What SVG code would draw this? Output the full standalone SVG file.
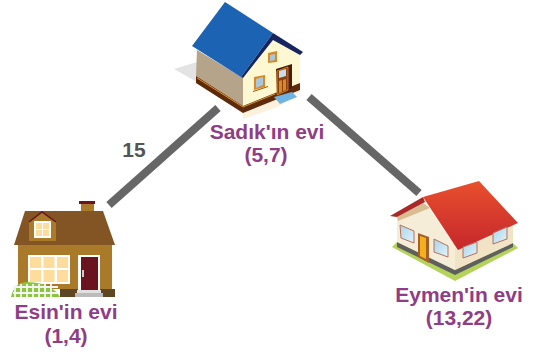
<svg xmlns="http://www.w3.org/2000/svg" width="536" height="354" viewBox="0 0 536 354">
<defs>
<linearGradient id="red" x1="0" y1="0" x2="0" y2="1"><stop offset="0" stop-color="#e8502c"/><stop offset="1" stop-color="#c6262c"/></linearGradient>
<linearGradient id="glass" x1="0" y1="0" x2="1" y2="1"><stop offset="0" stop-color="#a9d4ea"/><stop offset="1" stop-color="#e2f3fa"/></linearGradient>
</defs>
<style>
text{font-family:"Liberation Sans",Arial,sans-serif;font-weight:700;font-size:21px;fill:#8f3d86;text-anchor:middle}
.edge{stroke:#666;stroke-width:8;fill:none}
.win{fill:url(#glass);stroke:#b5705c;stroke-width:1}
.pane{fill:#fedd9c}
</style>
<g id="connectors">
<line class="edge" x1="218" y1="108" x2="109" y2="205"/>
<line class="edge" x1="309" y1="97" x2="419" y2="193"/>
<text x="134" y="157" style="fill:#555">15</text>
</g>
<g id="sadik">
<polygon points="174,69 197,62 197,82" fill="#e3e3e3"/>
<polygon points="196,83 243,113 243,119 280,106 300,92 300,84 196,76" fill="#fdf0dc"/>
<polygon points="197,50 243,78 243,106 196,76" fill="#b5a489"/>
<polygon points="243,78 273,40 300,55 300,83 243,106" fill="#fdf8d2"/>
<polygon points="196,76 243,106 300,83 300,90 243,113 196,83" fill="#5e2a0c"/>
<polyline points="197,78 243,107 275,94" fill="none" stroke="#e0941e" stroke-width="1"/>
<polygon points="225,2 273,33 241,77 192,46" fill="#1d63b3"/>
<polygon points="241,77 273,33 303,52 300,55 273,40 243,78" fill="#16245f"/>
<polygon points="276,69 292,64 292,88 277,95" fill="#4e1a0a"/>
<polygon points="277,71 288,67 288,90 277,95" fill="#8a3f10" stroke="#e0941e" stroke-width="0.8"/>
<polygon points="279,71 286,69 286,76 279,78" fill="#c9dcec"/>
<polygon points="279,81 282,80 282,92 279,93" fill="#d98a26"/>
<polygon points="283,80 286,79 286,90 283,91" fill="#d98a26"/>
<polygon points="274,97 292,92 297,97 280,104" fill="#6fb3e0"/>
<polygon points="254,77 265,75 265,87 254,90" fill="#d98a26"/>
<polygon points="256,79 263,77 263,85 256,88" fill="#a9c6df"/>
<polygon points="253,91 268,86 268,87 253,92" fill="#8a5a1a"/>
<polygon points="268,53 277,51 277,62 268,63" fill="#d98a26"/>
<polygon points="270,55 275,54 275,60 270,61" fill="#a9c6df"/>
<text x="267" y="139">Sadık'ın evi</text>
<text x="266" y="162">(5,7)</text>
</g>
<g id="esin">
<rect x="79" y="201" width="16" height="3" fill="#6a1420"/>
<rect x="81" y="204" width="13" height="7" fill="#a87a2a"/>
<rect x="18" y="245" width="94" height="44" fill="#a87a2a"/>
<polygon points="25,211 103,211 115,245 14,245" fill="#835424"/>
<polygon points="29,222 42,212 56,222 56,241 29,241" fill="#a87a2a"/>
<polyline points="29,222 42,212 56,222" fill="none" stroke="#6a1420" stroke-width="1.5"/>
<rect x="34" y="221" width="17" height="17" fill="#fff"/>
<g class="pane"><rect x="36" y="223" width="6" height="6"/><rect x="43" y="223" width="6" height="6"/><rect x="36" y="230" width="6" height="6"/><rect x="43" y="230" width="6" height="6"/></g>
<rect x="28" y="255" width="42" height="29" fill="#fff"/>
<g class="pane"><rect x="30" y="257" width="11" height="11"/><rect x="43.500" y="257" width="11" height="11"/><rect x="57" y="257" width="11" height="11"/><rect x="30" y="270" width="11" height="12"/><rect x="43.500" y="270" width="11" height="12"/><rect x="57" y="270" width="11" height="12"/></g>
<rect x="60" y="289" width="55" height="8" fill="#5e4624"/>
<rect x="78" y="255" width="22" height="35" fill="#fff"/>
<rect x="81" y="257" width="17" height="33" fill="#6a1420"/>
<rect x="82" y="270" width="2" height="7" fill="#ccc"/>
<rect x="77" y="290" width="24" height="3" fill="#e0e0e0"/>
<rect x="75" y="293" width="28" height="4" fill="#bbb"/>
<path d="M11,297 Q14,282 28,282 Q52,283 60,297Z" fill="#8cc63f"/>
<path d="M13,287H58M13,293H58M15,285V297M21,284V297M27,284V297M33,284V297M39,284V297M45,284V297M51,284V297" stroke="#f4f4f4" stroke-width="1.800" fill="none"/>
<text x="66" y="319">Esin'in evi</text>
<text x="66" y="343">(1,4)</text>
</g>
<g id="eymen">
<polygon points="392,247 397,242 513,243 518,248 455,281" fill="#b3d35a"/>
<polygon points="397,242 455,270 513,243 513,247 455,275 397,247" fill="#5f5f5f"/>
<polygon points="397,217 425,202 458,250 455,270 397,242" fill="#f6edd9"/>
<polygon points="455,244 513,223 513,243 455,270" fill="#f1e3c6"/>
<polygon points="397,217 423,203 430,208 398,221" fill="#d9bd92"/>
<polygon points="390,216 423,197 425,202 397,217" fill="#a9282a"/>
<polygon points="423,197 479,181 518,223 458,250" fill="url(#red)"/>
<polygon class="win" points="400,225 414,231 414,243 401,238"/>
<polygon class="win" points="434,239 448,246 448,257 434,252"/>
<polygon class="win" points="463,247 477,242 477,253 463,258"/>
<polygon class="win" points="493,233 507,227 507,239 493,244"/>
<polygon points="418,233 429,237 429,263 418,257" fill="#a5602a"/>
<polygon points="420,236 426,238 426,259 420,256" fill="#f5b01e"/>
<text x="459" y="302">Eymen'in evi</text>
<text x="459" y="325">(13,22)</text>
</g>
</svg>
